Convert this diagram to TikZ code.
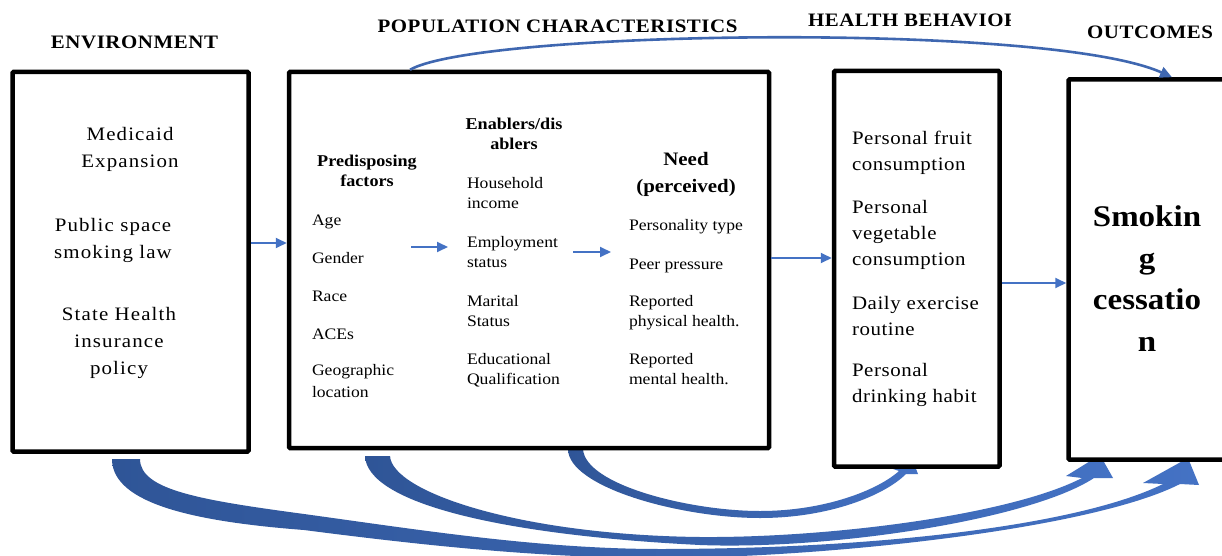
\documentclass[tikz,border=0pt]{standalone}
\usepackage{fontspec}
\setmainfont{Liberation Serif}[FakeStretch=1.1]
\newfontfamily\spacedfont{Liberation Serif}[FakeStretch=1.1,LetterSpace=6]
\newfontfamily\listfont{Liberation Serif}[FakeStretch=1.1,LetterSpace=3]
\newfontfamily\headfont{Liberation Serif}[FakeStretch=1.1,LetterSpace=3]
\usetikzlibrary{arrows.meta}

\definecolor{flowblue}{HTML}{4472C4}
\definecolor{deepblue}{HTML}{2F5597}
\definecolor{curveblue}{HTML}{3F67B0}

% stacked lines whose baseline is the first line
\newcommand\rows[2]{\begin{tabular}[t]{@{}#1@{}}#2\end{tabular}}

\tikzset{
  panel/.style={draw=black, line width=4.5pt, fill=white, rounded corners=1pt, inner sep=0pt},
  flow/.style={draw=flowblue, line width=1.8pt, -{Triangle[length=11pt,width=10pt]}},
  bigflow/.style={left color=deepblue, right color=flowblue},
  lbl/.style={inner sep=0pt, outer sep=0pt},
  heading/.style={lbl, anchor=base, font=\headfont\bfseries\fontsize{19}{22}\selectfont},
  envtxt/.style={lbl, anchor=base, font=\spacedfont\fontsize{19}{27}\selectfont},
  behtxt/.style={lbl, anchor=base west, font=\listfont\fontsize{19}{26}\selectfont},
  poptxt/.style={lbl, anchor=base west, font=\fontsize{16}{20.5}\selectfont},
  pophead/.style={lbl, anchor=base, font=\bfseries\fontsize{16.5}{20}\selectfont},
  needhead/.style={lbl, anchor=base, font=\bfseries\fontsize{19}{27}\selectfont},
  outtxt/.style={lbl, anchor=base, font=\bfseries\fontsize{30}{41.5}\selectfont},
}

\begin{document}
\begin{tikzpicture}[x=1pt, y=-1pt]
\useasboundingbox (0,0) rectangle (1222,556);
\fill[white] (0,0) rectangle (1222,556);

% tapering block arrows under the panels
% environment -> outcomes
\shade[bigflow]
  (112,459) .. controls (112,505) and (200,522) .. (304,530)
  .. controls (420,545) and (540,558) .. (660,558)
  .. controls (820,558) and (1090,530) .. (1180,484)
  -- (1199,485) -- (1188,458) -- (1143,483) -- (1163,484)
  .. controls (1080,525) and (880,549) .. (660,549)
  .. controls (540,549) and (420,530) .. (304,514)
  .. controls (200,500) and (140,490) .. (140,459) -- cycle;
% population characteristics -> outcomes
\shade[bigflow]
  (365,456) .. controls (367,503) and (500,535) .. (700,545)
  .. controls (830,550) and (1030,520) .. (1094,478)
  -- (1113,478) -- (1100,455) -- (1066,476) -- (1082,478)
  .. controls (1010,515) and (830,538) .. (700,537)
  .. controls (520,535) and (392,492) .. (390,456) -- cycle;
% population characteristics -> health behaviour
\shade[bigflow]
  (568,449) .. controls (568,487) and (680,518) .. (760,518)
  .. controls (830,518) and (885,495) .. (906,474)
  -- (918,474) -- (913,461) -- (893,469) -- (899,471)
  .. controls (878,490) and (825,511) .. (760,511)
  .. controls (690,511) and (585,485) .. (583,449) -- cycle;

% panels
\node[panel, minimum width=236pt, minimum height=379.5pt] (env) at (130.5,261.75) {};
\node[panel, minimum width=480pt, minimum height=376pt] (pop) at (529,260) {};
\node[panel, minimum width=165.5pt, minimum height=395.5pt] (beh) at (916.75,268.75) {};
\node[panel, minimum width=171.5pt, minimum height=380pt] (out) at (1154.25,269.5) {};

\begin{scope}[shift={(0,2.5)}]
% headings
\node[heading] (hEnv) at (134.5,46) {ENVIRONMENT};
\node[heading] (hPop) at (557.5,30) {POPULATION CHARACTERISTICS};
\begin{scope}
  \clip (790,0) rectangle (1010.5,40);
  \node[heading, anchor=base west] (hBeh) at (808,24) {HEALTH BEHAVIOR};
\end{scope}
\node[heading] (hOut) at (1150,36) {OUTCOMES};

% environment
\node[envtxt] (e1) at (130,138) {\rows{c}{Medicaid\\Expansion}};
\node[envtxt] (e2) at (113,229) {\rows{c}{Public space\\smoking law}};
\node[envtxt] (e3) at (119,318) {\rows{c}{State Health\\insurance\\policy}};

% population characteristics: predisposing factors
\node[pophead] (pHead) at (367,164.5) {\rows{c}{Predisposing\\factors}};
\node[poptxt] (p1) at (312,222.5) {Age};
\node[poptxt] (p2) at (312,260.5) {Gender};
\node[poptxt] (p3) at (312,298.5) {Race};
\node[poptxt] (p4) at (312,336.5) {ACEs};
\node[poptxt, font=\fontsize{16}{22}\selectfont] (p5) at (312,373) {\rows{l}{Geographic\\location}};

% enablers / disablers
\node[pophead] (nHead) at (514,127.5) {\rows{c}{Enablers/dis\\ablers}};
\node[poptxt] (n1) at (467,185.5) {\rows{l}{Household\\income}};
\node[poptxt] (n2) at (467,244.5) {\rows{l}{Employment\\status}};
\node[poptxt] (n3) at (467,303.5) {\rows{l}{Marital\\Status}};
\node[poptxt] (n4) at (467,361.5) {\rows{l}{Educational\\Qualification}};

% need
\node[needhead] (dHead) at (686,162.5) {\rows{c}{Need\\(perceived)}};
\node[poptxt] (d1) at (629,227.5) {Personality type};
\node[poptxt] (d2) at (629,266.5) {Peer pressure};
\node[poptxt] (d3) at (629,303.5) {\rows{l}{Reported\\physical health.}};
\node[poptxt] (d4) at (629,361.5) {\rows{l}{Reported\\mental health.}};

% health behaviour
\node[behtxt] (b1) at (852,142) {\rows{l}{Personal fruit\\consumption}};
\node[behtxt] (b2) at (852,211) {\rows{l}{Personal\\vegetable\\consumption}};
\node[behtxt] (b3) at (852,307) {\rows{l}{Daily exercise\\routine}};
\node[behtxt] (b4) at (852,374) {\rows{l}{Personal\\drinking habit}};

% outcome
\node[outtxt] (o1) at (1147,224) {\rows{c}{Smokin\\g\\cessatio\\n}};
\end{scope}

% straight connectors
\coordinate (yEP) at (0,243);
\coordinate (yPB) at (0,258);
\coordinate (yBO) at (0,283);
\draw[flow] (env.east |- yEP) -- (pop.west |- yEP);
\draw[flow] (pop.east |- yPB) -- (beh.west |- yPB);
\draw[flow] (beh.east |- yBO) -- (out.west |- yBO);

% arrows between the columns of the population panel
\coordinate (c1a) at (411,247);
\coordinate (c1b) at (448,247);
\coordinate (c2a) at (573,252);
\coordinate (c2b) at (611,252);
\draw[flow] (c1a) -- (c1b);
\draw[flow] (c2a) -- (c2b);

% arc over the top: population characteristics -> outcomes
\coordinate (xTopA) at (410,0);
\coordinate (xTopB) at (1172,0);
\draw[curveblue, line width=2.6pt, -{Triangle[length=12pt,width=11pt]}]
  (pop.north -| xTopA) .. controls (480,30) and (1050,22) .. (out.north -| xTopB);
\end{tikzpicture}
\end{document}
